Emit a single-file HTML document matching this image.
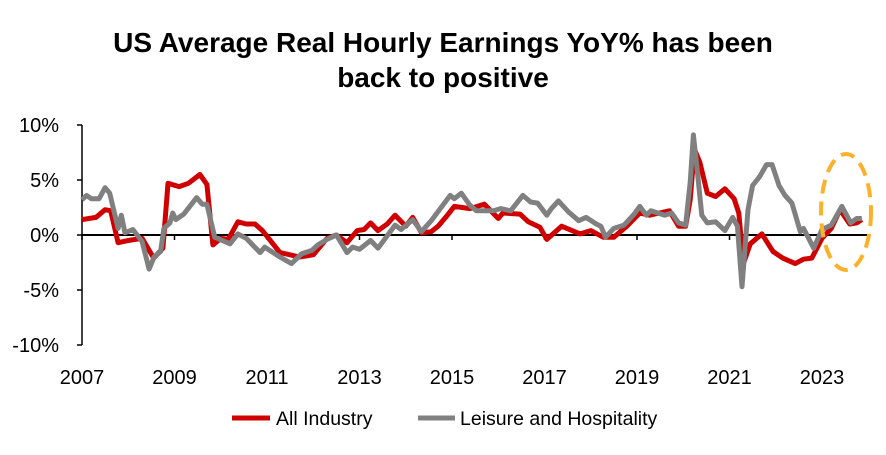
<!DOCTYPE html>
<html><head><meta charset="utf-8"><style>
body{margin:0;background:#fff;}
svg text{font-family:"Liberation Sans",Arial,sans-serif;}
</style></head><body>
<svg width="886" height="450" viewBox="0 0 886 450">
<text x="443" y="52" text-anchor="middle" font-size="28" font-weight="bold">US Average Real Hourly Earnings YoY% has been</text>
<text x="443" y="87" text-anchor="middle" font-size="28" font-weight="bold">back to positive</text>
<g id="axes"></g>
<g id="series"></g>
<ellipse cx="846" cy="212" rx="25" ry="58" fill="none" stroke="#FBB12A" stroke-width="4" stroke-dasharray="14,8"/>
<g>
<line x1="232" y1="418" x2="270" y2="418" stroke="#D00000" stroke-width="5"/>
<text x="276" y="425" font-size="19.5">All Industry</text>
<line x1="418" y1="418" x2="455" y2="418" stroke="#808080" stroke-width="5"/>
<text x="460" y="425" font-size="19.5">Leisure and Hospitality</text>
</g>
</svg>
<script>
const yTicks=[10,5,0,-5,-10];
const yTickLabels=["10%","5%","0%","-5%","-10%"];
const xTicks=[2007,2009,2011,2013,2015,2017,2019,2021,2023];
const allIndustryYears=[2007.0,2007.3,2007.5,2007.62,2007.78,2008.0,2008.3,2008.55,2008.75,2008.86,2009.1,2009.3,2009.55,2009.7,2009.83,2010.0,2010.16,2010.37,2010.55,2010.74,2010.9,2011.28,2011.5,2011.7,2012.0,2012.3,2012.5,2012.73,2012.95,2013.1,2013.24,2013.4,2013.6,2013.77,2014.0,2014.15,2014.34,2014.55,2014.7,2014.9,2015.05,2015.39,2015.7,2016.0,2016.1,2016.47,2016.65,2016.9,2017.05,2017.37,2017.77,2018.0,2018.27,2018.5,2018.78,2019.06,2019.27,2019.7,2019.9,2020.05,2020.15,2020.24,2020.36,2020.52,2020.7,2020.9,2021.1,2021.2,2021.3,2021.45,2021.7,2021.94,2022.15,2022.42,2022.6,2022.78,2023.0,2023.2,2023.39,2023.6,2023.75,2023.86];
const allIndustryValues=[1.4,1.6,2.3,2.2,-0.7,-0.5,-0.3,-2.1,-1.2,4.7,4.4,4.7,5.5,4.6,-0.9,-0.3,-0.4,1.2,1.0,1.0,0.4,-1.6,-1.8,-2.0,-1.8,-0.3,0.0,-0.7,0.4,0.5,1.1,0.4,1.0,1.8,0.8,1.6,0.2,0.3,0.8,1.8,2.6,2.4,2.8,1.5,2.0,1.9,1.2,0.7,-0.4,0.8,0.1,0.4,-0.2,-0.2,0.8,2.0,1.8,2.2,0.8,0.8,3.2,7.8,6.6,3.8,3.5,4.2,3.3,2.0,-2.6,-0.8,0.1,-1.5,-2.1,-2.6,-2.2,-2.1,-0.3,0.6,2.3,1.0,1.1,1.4];
const leisureYears=[2007.0,2007.1,2007.2,2007.37,2007.5,2007.6,2007.78,2007.85,2007.93,2008.1,2008.3,2008.45,2008.56,2008.7,2008.77,2008.9,2008.96,2009.03,2009.2,2009.48,2009.6,2009.7,2009.87,2010.2,2010.37,2010.55,2010.85,2010.95,2011.28,2011.53,2011.75,2011.97,2012.1,2012.3,2012.5,2012.73,2012.85,2013.0,2013.24,2013.4,2013.77,2013.9,2014.15,2014.34,2014.55,2014.96,2015.05,2015.2,2015.39,2015.53,2015.9,2016.05,2016.27,2016.53,2016.7,2016.85,2017.05,2017.15,2017.3,2017.52,2017.74,2017.9,2018.12,2018.22,2018.32,2018.5,2018.72,2018.94,2019.06,2019.2,2019.3,2019.6,2019.75,2019.9,2020.05,2020.15,2020.22,2020.3,2020.4,2020.52,2020.7,2020.9,2021.07,2021.17,2021.27,2021.4,2021.5,2021.65,2021.8,2021.92,2022.07,2022.2,2022.35,2022.53,2022.6,2022.82,2023.0,2023.2,2023.43,2023.62,2023.75,2023.86];
const leisureValues=[3.2,3.6,3.3,3.3,4.3,3.8,0.6,1.8,0.2,0.5,-0.6,-3.1,-2.0,-1.5,0.6,1.1,2.0,1.4,1.9,3.4,2.8,2.8,-0.2,-0.8,0.1,-0.3,-1.6,-1.1,-2.0,-2.6,-1.7,-1.4,-0.9,-0.4,0.0,-1.6,-1.1,-1.3,-0.5,-1.2,0.9,0.5,1.4,0.3,1.3,3.6,3.3,3.8,2.7,2.2,2.2,2.4,2.2,3.6,3.0,2.9,1.8,2.4,3.1,2.1,1.3,1.6,1.0,0.8,-0.2,0.6,0.9,1.9,2.6,1.8,2.2,1.8,2.0,1.1,0.9,4.8,9.1,6.0,1.8,1.1,1.2,0.4,1.6,0.8,-4.7,2.3,4.5,5.3,6.4,6.4,4.5,3.6,2.9,0.3,0.6,-1.2,0.5,0.9,2.6,1.1,1.5,1.5];
const X0=82,X1=868,Y0=235;
function xs(y){return X0+(y-2007)*46.25;}
function ys(v){return Y0-v*11;}
const NS="http://www.w3.org/2000/svg";
const axes=document.getElementById('axes');
function mk(tag,attrs,parent){const e=document.createElementNS(NS,tag);for(const k in attrs)e.setAttribute(k,attrs[k]);parent.appendChild(e);return e;}
let e=mk('line',{x1:X0,y1:ys(10),x2:X0,y2:ys(-10),stroke:'#000','stroke-width':1.5},axes);


yTicks.forEach((t,i)=>{
 let tk=mk('line',{x1:X0-5,y1:ys(t),x2:X0,y2:ys(t),stroke:'#000','stroke-width':1.5},axes);
 
 
 let tx=mk('text',{x:X0-23,y:ys(t)+7,'text-anchor':'end','font-size':20},axes);
 tx.textContent=yTickLabels[i];
 
 
});
e=mk('line',{x1:X0,y1:Y0,x2:X1,y2:Y0,stroke:'#000','stroke-width':2},axes);


xTicks.forEach(t=>{
 let tk=mk('line',{x1:xs(t),y1:Y0,x2:xs(t),y2:Y0+5,stroke:'#000','stroke-width':1.5},axes);
 
 
 let tx=mk('text',{x:xs(t),y:384,'text-anchor':'middle','font-size':20},axes);
 tx.textContent=String(t);
 
 
});
const sg=document.getElementById('series');
function path(yrs,vals){return yrs.map((y,i)=>(i?'L':'M')+xs(y).toFixed(1)+','+ys(vals[i]).toFixed(1)).join(' ');}
let p1=mk('path',{d:path(allIndustryYears,allIndustryValues),fill:'none',stroke:'#D00000','stroke-width':5,'stroke-linejoin':'round'},sg);


let p2=mk('path',{d:path(leisureYears,leisureValues),fill:'none',stroke:'#808080','stroke-width':5,'stroke-linejoin':'round'},sg);


</script>
</body></html>
